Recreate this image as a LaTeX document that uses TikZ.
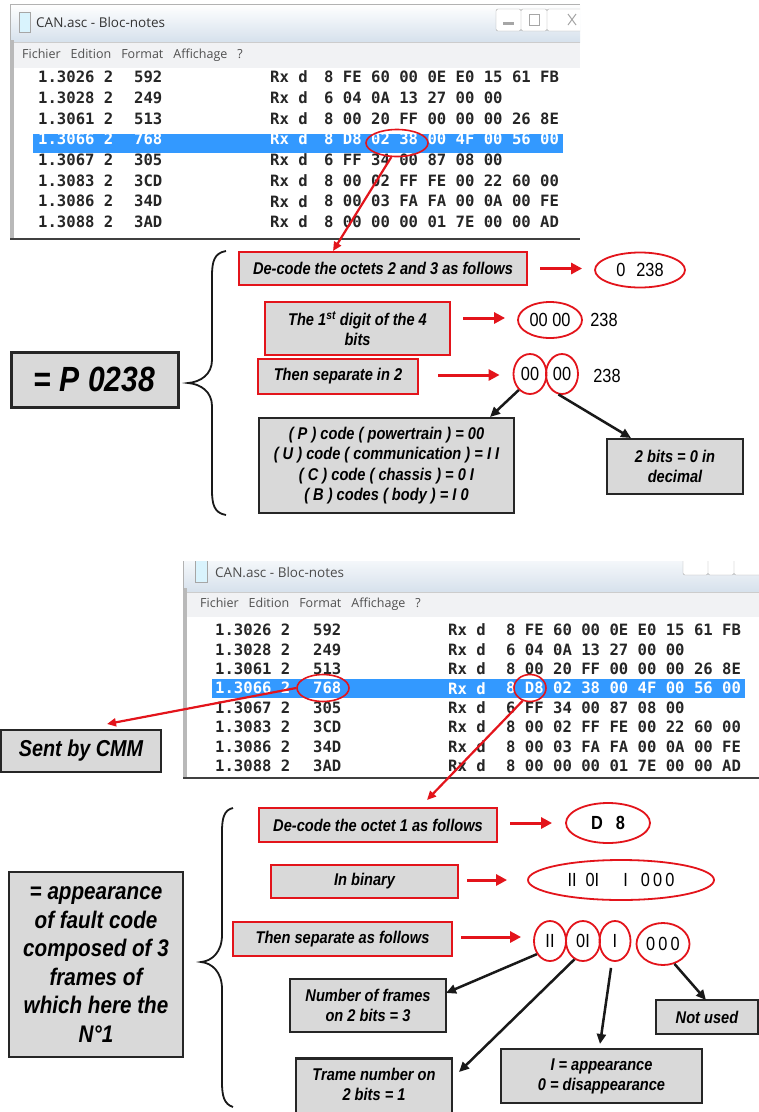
\documentclass[tikz,border=0pt]{standalone}
\usepackage{fontspec}
\setmainfont{Liberation Sans}
\newfontfamily\nar[FakeStretch=0.86]{Liberation Sans}
\newfontfamily\monof{DejaVu Sans Mono}
\newfontfamily\uif{Open Sans}
\usetikzlibrary{arrows.meta,calc,shapes.geometric}
\definecolor{boxgray}{HTML}{D9D9D9}
\definecolor{myred}{HTML}{E3141B}
\definecolor{hlblue}{HTML}{3399FF}
\definecolor{titleblue}{HTML}{D6E1EC}
\definecolor{menugray}{HTML}{F1F2F4}
\definecolor{uitext}{HTML}{505050}
\begin{document}
\begin{tikzpicture}[x=1pt,y=-1pt,
  rbox/.style={draw=myred,line width=2.4pt,fill=boxgray,inner sep=0pt,align=center,
    font=\nar\bfseries\itshape\fontsize{17}{20}\selectfont},
  kbox/.style={draw=black!85,line width=2.6pt,fill=boxgray,inner sep=0pt,align=center,
    font=\nar\bfseries\itshape\fontsize{17}{20}\selectfont},
  rell/.style={draw=myred,line width=1.8pt,ellipse,inner sep=0pt,
    font=\nar\fontsize{19}{22}\selectfont},
  plain/.style={inner sep=0pt,font=\nar\fontsize{19}{22}\selectfont},
  rarr/.style={draw=myred,line width=3pt,-{Triangle[length=11pt,width=11pt]}},
  rline/.style={draw=myred,line width=2.2pt,-{Triangle[length=9pt,width=8pt]}},
  karr/.style={draw=black!90,line width=2.5pt,-{Triangle[length=10pt,width=9pt]}},
  mono/.style={font=\monof\bfseries\fontsize{15.6}{18}\selectfont,inner sep=0pt,anchor=west},
  uitxt/.style={font=\uif\fontsize{12.5}{14}\selectfont,text=uitext,inner sep=0pt,anchor=west},
  brace/.style={line width=1.8pt,black!90}
]
\useasboundingbox (0,0) rectangle (759,1112);
\fill[white] (0,0) rectangle (759,1112);

% ================= TOP WINDOW =================
\shade[top color=white,bottom color=titleblue] (10,4) rectangle (580,42);
\fill[menugray] (14,42) rectangle (580,68);
\draw[gray!40] (14,42) -- (580,42) (14,68) -- (580,68);
\fill[white] (14,68) rectangle (580,238);
\fill[gray!55] (10,40) rectangle (14,240);
\draw[black!75,line width=1.2pt] (10,239) -- (580,239);
\draw[gray!60] (10,40) -- (10,4) -- (580,4);
\fill[cyan!15] (19,12) rectangle (30,32);
\draw[gray!70] (19,12) rectangle (30,32);
\node[font=\uif\fontsize{13.5}{15}\selectfont,text=black!80,inner sep=0pt,anchor=west] (tt1) at (36,22) {CAN.asc - Bloc-notes};
\begin{scope}
\clip (10,4) rectangle (580,42);
\draw[gray!70,fill=white,rounded corners=2pt] (496,9) rectangle (521,31) (521,9) rectangle (547,31) (547,9) rectangle (590,31);
\fill[gray!70] (503,22) rectangle (514,25);
\draw[gray!70,line width=1pt] (529,14) rectangle (539,25);
\draw[gray!70,line width=1pt] (568,14) -- (576,25) (576,14) -- (568,25);
\end{scope}
\node[uitxt] (mn1) at (22,55) {Fichier\hspace{10pt}Edition\hspace{10pt}Format\hspace{10pt}Affichage\hspace{10pt}?};
\fill[hlblue] (33,134) rectangle (563,153);
\foreach \tm/\id/\dat [count=\i] in {
  1.3026 2/592/8 FE 60 00 0E E0 15 61 FB,
  1.3028 2/249/6 04 0A 13 27 00 00,
  1.3061 2/513/8 00 20 FF 00 00 00 26 8E,
  1.3066 2/768/8 D8 02 38 00 4F 00 56 00,
  1.3067 2/305/6 FF 34 00 87 08 00,
  1.3083 2/3CD/8 00 02 FF FE 00 22 60 00,
  1.3086 2/34D/8 00 03 FA FA 00 0A 00 FE,
  1.3088 2/3AD/8 00 00 00 01 7E 00 00 AD}{
  \ifnum\i=4 \def\tc{white}\else\def\tc{black!85}\fi
  \pgfmathsetmacro\yy{77+(\i-1)*20.7}
  \node[mono,text=\tc] (ta\i) at (38,\yy) {\tm};
  \node[mono,text=\tc] (tb\i) at (134,\yy) {\id};
  \node[mono,text=\tc] (tc\i) at (270,\yy) {Rx d};
  \node[mono,text=\tc] (td\i) at (324,\yy) {\dat};
}
\node[draw=myred,line width=1.6pt,ellipse,minimum width=62pt,minimum height=27pt] (etop) at (397,143) {};

% ================= TOP DIAGRAM =================
\draw[brace] (226,251) .. controls (214,253) and (212,262) .. (212,276) -- (212,360)
  .. controls (212,374) and (201,382) .. (188,383)
  .. controls (201,384) and (212,392) .. (212,406) -- (212,490)
  .. controls (212,504) and (214,513) .. (226,515);
\node[kbox,line width=3pt,minimum width=167pt,minimum height=55pt,font=\nar\bfseries\itshape\fontsize{35}{38}\selectfont] (p0238) at (94.5,379.5) {= P 0238};
\node[rbox,minimum width=288pt,minimum height=33pt] (dec1) at (383,268.5) {De-code the octets 2 and 3 as follows};
\node[rbox,minimum width=185pt,minimum height=53pt] (dig) at (357.5,328.5) {The 1\textsuperscript{st} digit of the 4\\bits};
\node[rbox,minimum width=160pt,minimum height=35pt] (sep) at (338,376.5) {Then separate in 2};
\node[kbox,minimum width=255pt,minimum height=95pt,font=\nar\bfseries\itshape\fontsize{17}{20.5}\selectfont] (pcode) at (386.5,465.5)
  {( P ) code ( powertrain ) = 00\\( U ) code ( communication ) = I I\\( C ) code ( chassis ) = 0 I\\( B ) codes ( body ) = I 0};
\node[kbox,minimum width=136pt,minimum height=55pt] (bits) at (675,466.5) {2 bits = 0 in\\decimal};
\node[rell,minimum width=90pt,minimum height=35pt] (e1) at (640,270) {0\hspace{11pt}238};
\node[rell,minimum width=64pt,minimum height=36pt] (e2) at (550,320) {00 00};
\node[plain] (t2) at (604,320) {238};
\node[rell,minimum width=33pt,minimum height=40pt] (e3a) at (530,374) {00};
\node[rell,minimum width=32pt,minimum height=40pt] (e3b) at (562,374) {00};
\node[plain] (t3) at (607,376) {238};

\coordinate (rt1) at (333,251);
\draw[rline] (etop.-112) -- (rt1);
\draw[rarr] ($(dec1.east)+(12,0)$) -- ($(e1.west|-dec1.east)+(-12,0)$);
\draw[rarr] ($(dig.east|-e2.west)+(12,-2)$) -- ($(e2.west)+(-12,-2)$);
\draw[rarr] ($(sep.east|-e3a.west)+(19,1)$) -- ($(e3a.west)+(-13,1)$);
\coordinate (k1) at (490,417);
\coordinate (k2) at (631,438);
\draw[karr] (e3a.-125) -- (k1);
\draw[karr] (e3b.-100) -- (k2);

% ================= BOTTOM WINDOW =================
\begin{scope}
\clip (183,561) rectangle (759,782);
\shade[top color=white,bottom color=titleblue] (183,550) rectangle (765,592);
\fill[menugray] (187,592) rectangle (765,617);
\draw[gray!40] (187,592) -- (765,592) (187,617) -- (765,617);
\fill[white] (187,617) rectangle (765,777);
\fill[gray!55] (183,588) rectangle (187,779);
\draw[black!75,line width=1.2pt] (183,778) -- (765,778);
\draw[gray!60] (183,590) -- (183,550);
\fill[cyan!15] (195,560) rectangle (207,582);
\draw[gray!70] (195,560) rectangle (207,582);
\draw[gray!70,fill=white,rounded corners=2pt] (683,552) rectangle (708,575) (708,552) rectangle (734,575) (734,552) rectangle (770,575);
\node[font=\uif\fontsize{13.5}{15}\selectfont,text=black!70,inner sep=0pt,anchor=west] (tt2) at (215,572) {CAN.asc - Bloc-notes};
\end{scope}
\node[uitxt] (mn2) at (200,604) {Fichier\hspace{10pt}Edition\hspace{10pt}Format\hspace{10pt}Affichage\hspace{10pt}?};
\fill[hlblue] (212,679) rectangle (745,698);
\foreach \tm/\id/\dat [count=\i] in {
  1.3026 2/592/8 FE 60 00 0E E0 15 61 FB,
  1.3028 2/249/6 04 0A 13 27 00 00,
  1.3061 2/513/8 00 20 FF 00 00 00 26 8E,
  1.3066 2/768/8 D8 02 38 00 4F 00 56 00,
  1.3067 2/305/6 FF 34 00 87 08 00,
  1.3083 2/3CD/8 00 02 FF FE 00 22 60 00,
  1.3086 2/34D/8 00 03 FA FA 00 0A 00 FE,
  1.3088 2/3AD/8 00 00 00 01 7E 00 00 AD}{
  \ifnum\i=4 \def\tc{white}\else\def\tc{black!85}\fi
  \pgfmathsetmacro\yy{630+(\i-1)*19.4}
  \node[mono,text=\tc] (ua\i) at (215,\yy) {\tm};
  \node[mono,text=\tc] (ub\i) at (313,\yy) {\id};
  \node[mono,text=\tc] (uc\i) at (448,\yy) {Rx d};
  \node[mono,text=\tc] (ud\i) at (506,\yy) {\dat};
}
\node[draw=myred,line width=1.6pt,ellipse,minimum width=52pt,minimum height=27pt] (e768) at (323,688) {};
\node[draw=myred,line width=1.6pt,ellipse,minimum width=32pt,minimum height=27pt] (ed8) at (530,688) {};

% ================= BOTTOM DIAGRAM =================
\node[kbox,minimum width=160pt,minimum height=42pt,font=\nar\bfseries\itshape\fontsize{23}{25}\selectfont] (sent) at (81,751) {Sent by CMM};
\coordinate (rs) at (107,724);
\draw[rline] (e768.west) -- (rs);
\coordinate (rd) at (427,800);
\draw[rline] (ed8.-120) -- (rd);

\draw[brace] (233,808) .. controls (224,810) and (222,818) .. (222,832) -- (222,935)
  .. controls (222,952) and (212,961) .. (201,962)
  .. controls (212,963) and (222,972) .. (222,989) -- (222,1082)
  .. controls (222,1096) and (224,1104) .. (233,1107);
\node[kbox,minimum width=174pt,minimum height=185pt,font=\nar\bfseries\itshape\fontsize{24}{28.5}\selectfont] (app) at (96,964.5)
  {= appearance\\of fault code\\composed of 3\\frames of\\which here the\\N°1};
\node[rbox,minimum width=238pt,minimum height=34pt] (dec2) at (378,825) {De-code the octet 1 as follows};
\node[rbox,minimum width=187pt,minimum height=33pt] (bin) at (364.5,881.5) {In binary};
\node[rbox,minimum width=219pt,minimum height=34pt] (sep2) at (342.5,939) {Then separate as follows};
\node[rell,minimum width=84pt,minimum height=40pt,font=\nar\bfseries\fontsize{19}{22}\selectfont] (ed) at (608,823) {D\hspace{13pt}8};
\node[rell,minimum width=186pt,minimum height=40pt] (eb) at (621,880) {II\hspace{9pt}0I\hspace{24pt}I\hspace{13pt}0\,0\,0};
\node[rell,minimum width=32pt,minimum height=40pt] (s1) at (550,941) {II};
\node[rell,minimum width=34pt,minimum height=40pt] (s2) at (583,941) {0I};
\node[rell,minimum width=31pt,minimum height=40pt] (s3) at (615,941) {I};
\node[rell,minimum width=53pt,minimum height=42pt] (s4) at (663,944) {0\,0\,0};
\node[kbox,minimum width=156pt,minimum height=53pt] (nof) at (368,1005.5) {Number of frames\\on 2 bits = 3};
\node[kbox,minimum width=156pt,minimum height=62pt,anchor=north] (trame) at (374,1057) {};
\node[inner sep=0pt,align=center,font=\nar\bfseries\itshape\fontsize{17}{20}\selectfont] (trt) at (374,1084) {Trame number on\\2 bits = 1};
\node[kbox,minimum width=201pt,minimum height=54pt] (appr) at (601.5,1076) {I = appearance\\0 = disappearance};
\node[kbox,minimum width=102pt,minimum height=34pt] (nu) at (707,1017) {Not used};

\draw[rarr] ($(dec2.east|-ed.west)+(12,0)$) -- ($(ed.west)+(-13,0)$);
\draw[rarr] ($(bin.east|-eb.west)+(8,0)$) -- ($(eb.west)+(-20,0)$);
\draw[rarr] ($(sep2.east|-s1.west)+(8,-4)$) -- ($(s1.west)+(-12,-4)$);

\coordinate (n1) at (446,993);
\coordinate (n2) at (459,1072);
\coordinate (n3) at (600,1044);
\coordinate (n4) at (706,1000);
\draw[karr] (s1.-135) -- (n1);
\draw[karr] (s2.-115) -- (n2);
\draw[karr] ($(s3.south)+(-4,6)$) -- (n3);
\draw[karr] (s4.-60) -- (n4);
\end{tikzpicture}
\end{document}
